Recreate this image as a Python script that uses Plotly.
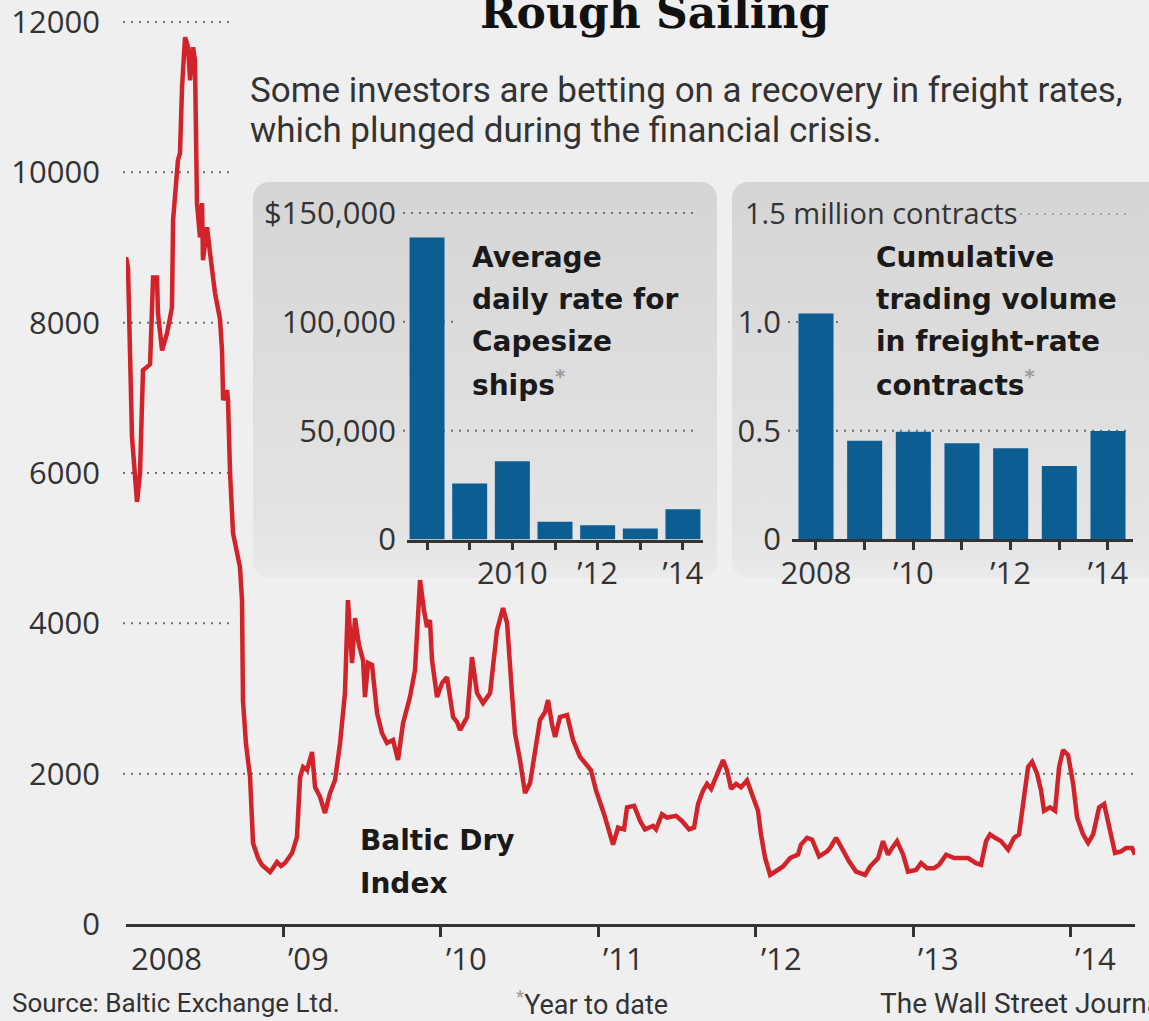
import base64
import plotly.graph_objects as go

W, H = 1149, 1021

# Baltic Dry Index, decimal year vs. index level
bdi_year = [
    2008.000, 2008.013, 2008.038, 2008.070, 2008.089, 2008.108, 2008.133, 2008.153,
    2008.172, 2008.197, 2008.203, 2008.229, 2008.261, 2008.292, 2008.299, 2008.330,
    2008.343, 2008.356, 2008.375, 2008.394, 2008.407, 2008.426, 2008.438, 2008.451,
    2008.470, 2008.483, 2008.489, 2008.515, 2008.534, 2008.565, 2008.597, 2008.610,
    2008.617, 2008.642, 2008.648, 2008.661, 2008.680, 2008.705, 2008.724, 2008.737,
    2008.743, 2008.762, 2008.788, 2008.807, 2008.839, 2008.864, 2008.915, 2008.934,
    2008.959, 2008.985, 2009.010, 2009.055, 2009.086, 2009.106, 2009.125, 2009.150,
    2009.182, 2009.201, 2009.233, 2009.264, 2009.296, 2009.328, 2009.360, 2009.391,
    2009.410, 2009.436, 2009.455, 2009.480, 2009.506, 2009.518, 2009.538, 2009.563,
    2009.595, 2009.626, 2009.658, 2009.696, 2009.728, 2009.760, 2009.804, 2009.836,
    2009.868, 2009.893, 2009.912, 2009.931, 2009.944, 2009.976, 2010.008, 2010.039,
    2010.058, 2010.078, 2010.103, 2010.122, 2010.167, 2010.198, 2010.230, 2010.268,
    2010.313, 2010.338, 2010.357, 2010.395, 2010.421, 2010.452, 2010.471, 2010.503,
    2010.535, 2010.567, 2010.599, 2010.630, 2010.662, 2010.681, 2010.707, 2010.726,
    2010.757, 2010.802, 2010.840, 2010.884, 2010.954, 2010.986, 2011.037, 2011.094,
    2011.126, 2011.164, 2011.183, 2011.228, 2011.266, 2011.297, 2011.348, 2011.367,
    2011.405, 2011.437, 2011.494, 2011.532, 2011.577, 2011.609, 2011.634, 2011.666,
    2011.691, 2011.717, 2011.748, 2011.793, 2011.818, 2011.844, 2011.876, 2011.907,
    2011.945, 2011.977, 2012.015, 2012.034, 2012.060, 2012.092, 2012.142, 2012.174,
    2012.219, 2012.269, 2012.288, 2012.327, 2012.358, 2012.403, 2012.454, 2012.473,
    2012.511, 2012.543, 2012.593, 2012.638, 2012.695, 2012.727, 2012.778, 2012.809,
    2012.841, 2012.867, 2012.898, 2012.937, 2012.968, 2013.019, 2013.051, 2013.089,
    2013.133, 2013.165, 2013.210, 2013.261, 2013.305, 2013.349, 2013.400, 2013.432,
    2013.464, 2013.489, 2013.521, 2013.559, 2013.604, 2013.642, 2013.673, 2013.699,
    2013.731, 2013.756, 2013.788, 2013.813, 2013.832, 2013.870, 2013.902, 2013.928,
    2013.953, 2013.985, 2014.017, 2014.042, 2014.080, 2014.112, 2014.144, 2014.182,
    2014.214, 2014.252, 2014.283, 2014.322, 2014.353, 2014.391, 2014.410,
]
bdi_value = [
    8870, 8725, 6480, 5615, 6000, 7370, 7410, 7450,
    8600, 8600, 8127, 7630, 7860, 8200, 9363, 10161,
    10254, 11130, 11797, 11664, 11225, 11664, 11490, 9590,
    9137, 9590, 8830, 9270, 8925, 8400, 8050, 7630,
    6970, 7100, 6970, 6000, 5200, 4975, 4750, 4310,
    2979, 2400, 1955, 1077, 878, 785, 692, 745,
    825, 771, 811, 944, 1157, 1955, 2088, 2048,
    2288, 1822, 1689, 1476, 1742, 1915, 2407, 3072,
    4309, 3471, 4070, 3711, 3511, 3019, 3471, 3445,
    2806, 2540, 2407, 2447, 2181, 2673, 3019, 3378,
    4575, 4176, 3950, 4043, 3511, 3019, 3205, 3285,
    3019, 2753, 2687, 2580, 2753, 3551, 3072, 2939,
    3072, 3511, 3910, 4203, 4003, 3072, 2540, 2181,
    1742, 1875, 2274, 2713, 2820, 2979, 2647, 2487,
    2753, 2780, 2447, 2225, 2045, 1775, 1461, 1057,
    1282, 1259, 1551, 1573, 1371, 1259, 1304, 1259,
    1461, 1416, 1439, 1371, 1259, 1282, 1596, 1776,
    1865, 1798, 1955, 2180, 2045, 1798, 1865, 1820,
    1910, 1731, 1506, 1192, 878, 653, 720, 765,
    878, 922, 1057, 1147, 1125, 900, 967, 1012,
    1147, 1012, 833, 698, 653, 765, 878, 1102,
    922, 1012, 1102, 922, 698, 720, 810, 743,
    743, 788, 922, 878, 878, 878, 810, 788,
    1102, 1192, 1147, 1102, 990, 1147, 1192, 1641,
    2090, 2157, 2000, 1776, 1506, 1551, 1506, 2090,
    2314, 2247, 1865, 1416, 1192, 1080, 1192, 1551,
    1596, 1237, 945, 967, 1012, 1012, 922,
]

# Average daily rate for Capesize ships, dollars (2014 is year to date)
cape_years = [2008, 2009, 2010, 2011, 2012, 2013, 2014]
cape_rate = [138800, 25700, 36000, 8100, 6600, 5100, 13900]

# Cumulative trading volume in freight-rate contracts, million contracts
ffa_years = [2008, 2009, 2010, 2011, 2012, 2013, 2014]
ffa_volume = [1.04, 0.454, 0.495, 0.442, 0.419, 0.337, 0.499]

main_ticks = [0, 2000, 4000, 6000, 8000, 10000, 12000]
main_tick_text = ["0", "2000", "4000", "6000", "8000", "10000", "12000"]
main_years = [2008, 2009, 2010, 2011, 2012, 2013, 2014]
main_year_text = ["2008", "\u201909", "\u201910", "\u201911", "\u201912", "\u201913", "\u201914"]

cape_ticks = [0, 50000, 100000, 150000]
cape_tick_text = ["0", "50,000", "100,000", "$150,000"]
cape_label_years = [2010, 2012, 2014]
cape_label_text = ["2010", "\u201912", "\u201914"]

ffa_ticks = [0, 0.5, 1.0]
ffa_tick_text = ["0", "0.5", "1.0"]
ffa_label_years = [2008, 2010, 2012, 2014]
ffa_label_text = ["2008", "\u201910", "\u201912", "\u201914"]

BG = "#efefef"
RED = "#d2232a"
BLUE = "#0b5d92"
INK = "#333333"
DARK = "#1a1a1a"
NUM_FONT = "Open Sans"
TEXT_FONT = "Roboto"
BOLD_FONT = "DejaVu Sans"
DOT = "2px,6px"

# Main chart: y = 0 sits at 924 px, 902 px per 12000 index points
Y_TOP = 12100
Y_TOP_PX = 924 - Y_TOP * 902 / 12000


def px(x):
    return x / W


def py(y):
    return 1 - y / H


def panel_image(x0, y0, x1, y1):
    w, h = x1 - x0, y1 - y0
    svg = (
        f'<svg xmlns="http://www.w3.org/2000/svg" width="{w}" height="{h}" viewBox="0 0 {w} {h}">'
        '<defs><linearGradient id="g" x1="0" y1="0" x2="0" y2="1">'
        '<stop offset="0" stop-color="#d5d5d5"/>'
        '<stop offset="0.88" stop-color="#e4e4e4"/>'
        '<stop offset="1" stop-color="#eaeaea"/>'
        '</linearGradient></defs>'
        f'<rect x="0" y="0" width="{w}" height="{h}" rx="16" ry="16" fill="url(#g)"/>'
        '</svg>'
    )
    src = "data:image/svg+xml;base64," + base64.b64encode(svg.encode()).decode()
    return dict(source=src, xref="paper", yref="paper", x=px(x0), y=py(y0),
                sizex=w / W, sizey=h / H, xanchor="left", yanchor="top",
                sizing="stretch", layer="below")


fig = go.Figure()

fig.add_trace(go.Scatter(
    x=bdi_year, y=bdi_value, mode="lines",
    line=dict(color=RED, width=4.5), xaxis="x", yaxis="y", hoverinfo="skip",
))
fig.add_trace(go.Bar(
    x=cape_years, y=cape_rate, width=0.82, marker=dict(color=BLUE, line=dict(width=0)),
    xaxis="x2", yaxis="y2", hoverinfo="skip",
))
fig.add_trace(go.Bar(
    x=ffa_years, y=ffa_volume, width=0.72, marker=dict(color=BLUE, line=dict(width=0)),
    xaxis="x3", yaxis="y3", hoverinfo="skip",
))

num_font = dict(family=NUM_FONT, size=31, color=INK)
common = dict(showgrid=False, zeroline=False, fixedrange=True, automargin=False,
              ticklabeloverflow="allow")
bar_ticks = dict(ticks="outside", ticklen=8, tickwidth=2.5, tickcolor=INK)

fig.update_layout(
    template="none",
    width=W, height=H, autosize=False,
    margin=dict(l=0, r=0, t=0, b=0, pad=0),
    paper_bgcolor=BG, plot_bgcolor="rgba(0,0,0,0)",
    font=dict(family=NUM_FONT, color=INK),
    showlegend=False,
    xaxis=dict(
        domain=[px(126), px(1135)], range=[2008, 2014.41], anchor="y",
        showline=True, linecolor=INK, linewidth=2.5,
        ticks="outside", tickvals=main_years[1:], ticklen=10, tickwidth=2.5, tickcolor=INK,
        showticklabels=False, **common,
    ),
    yaxis=dict(
        domain=[py(924), py(Y_TOP_PX)], range=[0, Y_TOP], anchor="x",
        tickvals=main_ticks, ticktext=main_tick_text, ticks="",
        tickfont=num_font, ticklabelstandoff=25, showline=False, **common,
    ),
    xaxis2=dict(
        domain=[px(407), px(703)], range=[2007.53, 2014.47], anchor="y2",
        showline=True, linecolor=INK, linewidth=2.5,
        tickvals=cape_label_years, ticktext=cape_label_text, tickfont=num_font,
        ticklabelstandoff=-3, minor=dict(tickvals=cape_years, **bar_ticks),
        **bar_ticks, **common,
    ),
    yaxis2=dict(
        domain=[py(539.5), py(210)], range=[0, 151400], anchor="x2",
        tickvals=cape_ticks, ticktext=cape_tick_text, ticks="",
        tickfont=num_font, ticklabelstandoff=10, showline=False, **common,
    ),
    xaxis3=dict(
        domain=[px(792), px(1133)], range=[2007.507, 2014.514], anchor="y3",
        showline=True, linecolor=INK, linewidth=2.5,
        tickvals=ffa_label_years, ticktext=ffa_label_text, tickfont=num_font,
        ticklabelstandoff=-3, minor=dict(tickvals=ffa_years, **bar_ticks),
        **bar_ticks, **common,
    ),
    yaxis3=dict(
        domain=[py(539.3), py(213.5)], range=[0, 1.5], anchor="x3",
        tickvals=ffa_ticks, ticktext=ffa_tick_text, ticks="",
        tickfont=num_font, ticklabelstandoff=10, showline=False, **common,
    ),
)

# Inset panels
fig.update_layout(images=[panel_image(253, 182, 717, 578), panel_image(732, 182, 1170, 578)])

# Dotted guide lines
shapes = []


def guide(x0, x1, yv, yref):
    shapes.append(dict(type="line", xref="paper", yref=yref, x0=px(x0), x1=px(x1),
                       y0=yv, y1=yv, layer="below",
                       line=dict(color="#6f6f6f", width=2, dash=DOT)))


for lv in main_ticks[2:]:
    guide(123, 231, lv, "y")
guide(123, 1137, 2000, "y")
guide(403, 698, 150000, "y2")
guide(403, 456, 100000, "y2")
guide(403, 698, 50000, "y2")
guide(1020, 1132, 1.5, "y3")
guide(788, 842, 1.0, "y3")
guide(788, 1132, 0.5, "y3")
fig.update_layout(shapes=shapes)

ann = []


def text(s, x, y, font, xanchor="left", xref="paper", xshift=0):
    ann.append(dict(text=s, x=x, y=py(y), xref=xref, yref="paper", xanchor=xanchor,
                    yanchor="middle", showarrow=False, font=font, xshift=xshift,
                    align="left"))


title_font = dict(family="DejaVu Serif", size=44, color="#111111")
sub_font = dict(family=TEXT_FONT, size=35, color=INK)
bold_font = dict(family=BOLD_FONT, size=28, color=DARK)
lab_font = dict(family=TEXT_FONT, size=26, color=INK)
star = "<sup><span style='color:#9a9a9a'>*</span></sup>"

text("<b>Rough Sailing</b>", px(654), 12, title_font, xanchor="center")
text("Some investors are betting on a recovery in freight rates,", px(248), 91, sub_font)
text("which plunged during the financial crisis.", px(248), 130, sub_font)

for yr, lbl in zip(main_years, main_year_text):
    text(lbl, yr, 958, num_font, xref="x", xshift=3)

for i, line in enumerate(["Average", "daily rate for", "Capesize", "ships" + star]):
    text(f"<b>{line}</b>", px(470), 257 + 42 * i, bold_font)
for i, line in enumerate(["Cumulative", "trading volume", "in freight-rate", "contracts" + star]):
    text(f"<b>{line}</b>", px(874), 257 + 42 * i, bold_font)

text("1.5 million contracts", px(743), 212, dict(family=NUM_FONT, size=29, color=INK))

text("<b>Baltic Dry</b>", px(358), 840, bold_font)
text("<b>Index</b>", px(358), 883, bold_font)

text("Source: Baltic Exchange Ltd.", px(10), 1003, lab_font)
text(star + "Year to date", px(514), 1003, dict(lab_font, size=27))
text("The Wall Street Journal", px(878), 1003, dict(lab_font, size=28))

fig.update_layout(annotations=ann)

fig.write_html("out.html")
